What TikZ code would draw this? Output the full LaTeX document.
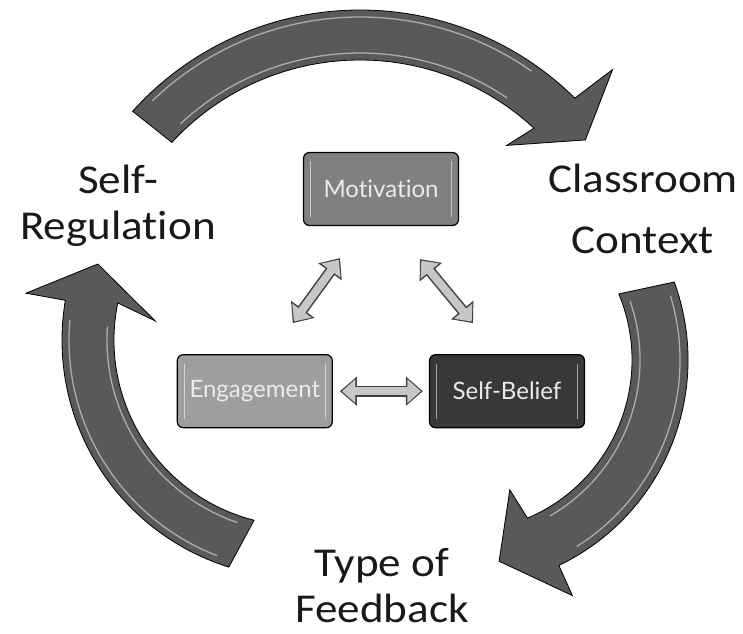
\documentclass[tikz,border=0pt]{standalone}
\usepackage{fontspec}
\newfontfamily\boxfont[Ligatures=NoCommon]{Lato}
\newfontfamily\labelfont[FakeStretch=1.1, Ligatures=NoCommon]{Carlito}
\usetikzlibrary{positioning}
\usetikzlibrary{arrows.meta}
\usetikzlibrary{calc}
\tikzset{%
	% Specifications for style of the boxes:
	base/.style = {rectangle, rounded corners=6pt, draw=black, line width=1.2pt,
		minimum width=155pt, minimum height=73pt, inner sep=2pt,
		text=white!92!black, font=\boxfont\fontsize{24}{26}\selectfont,
		path picture={
			\draw[white, opacity=.55, line width=1.6pt]
			([xshift=7pt,yshift=-9pt]path picture bounding box.north west) --
			([xshift=7pt,yshift=9pt]path picture bounding box.south west)
			([xshift=-7pt,yshift=-9pt]path picture bounding box.north east) --
			([xshift=-7pt,yshift=9pt]path picture bounding box.south east);}},
	motBox/.style = {base, fill=black!50},
	engBox/.style = {base, fill=black!38},
	belBox/.style = {base, fill=black!78},
	% two-way arrows between the boxes
	fatlink/.style = {line width=8pt, draw=black!22, shorten <=2pt, shorten >=2pt,
		{Triangle[length=13.5pt, width=23pt]}-{Triangle[length=13.5pt, width=23pt]},
		preaction={draw=black!75, line width=11pt, shorten <=0pt, shorten >=0pt,
			{Triangle[length=17pt, width=28pt]}-{Triangle[length=17pt, width=28pt]}}},
	% big curved arrows
	cycleArrow/.style = {draw=black, line width=0.8pt, fill=black!65},
	gloss/.style = {white, opacity=.5, line width=1.3pt},
	outerText/.style = {font=\labelfont\fontsize{41}{46}\selectfont, align=center,
		text=black!90}
}

\begin{document}
\begin{tikzpicture}[x=1pt, y=1pt]
	\path[use as bounding box, fill=white] (0,0) rectangle (743,633);
	
	% top arrow
	\begin{scope}[shift={(360,317)}]
		\draw[cycleArrow] (138:306pt) arc[start angle=138, end angle=45.4, radius=306pt]
			-- (44.3:353pt) -- (38:286pt) -- (49.3:225pt) -- (47.2:256pt)
			arc[start angle=47.2, end angle=137.3, radius=256pt] -- cycle;
		\draw[gloss] (134:299pt) arc[start angle=134, end angle=55, radius=299pt];
		\draw[gloss] (133:263pt) arc[start angle=133, end angle=56, radius=263pt];
	\end{scope}
	% right arrow
	\begin{scope}[shift={(460,273)}]
		\draw[cycleArrow] (20:228pt) arc[start angle=20, end angle=-64.3, radius=228pt]
			-- (-64.5:261pt) -- (-79:205pt) -- (-69:139pt) -- (-66.9:172pt)
			arc[start angle=-66.9, end angle=22.6, radius=172pt] -- cycle;
		\draw[gloss] (17:220pt) arc[start angle=17, end angle=-58, radius=220pt];
		\draw[gloss] (19:180pt) arc[start angle=19, end angle=-60, radius=180pt];
	\end{scope}
	% left arrow
	\begin{scope}[shift={(300,293)}]
		\draw[cycleArrow] (252.6:238pt) arc[start angle=252.6, end angle=170.4, radius=238pt]
			-- (170.3:278pt) -- (159.4:216pt) -- (172.5:146pt) -- (168.5:186pt)
			arc[start angle=168.5, end angle=255.7, radius=186pt] -- cycle;
		\draw[gloss] (249:231pt) arc[start angle=249, end angle=175, radius=231pt];
		\draw[gloss] (251:193pt) arc[start angle=251, end angle=176, radius=193pt];
	\end{scope}
	
	\node (mot) [motBox] at (381,444) {Motivation};
	\node (eng) [engBox, below left=128pt and -30pt of mot] {Engagement};
	\node (bel) [belBox, right=96pt of eng] {Self-Belief};
	
	\draw[fatlink] ([shift={(-41pt,-32pt)}]mot.south) -- ([shift={(38pt,31pt)}]eng.north);
	\draw[fatlink] ([shift={(39pt,-33pt)}]mot.south) -- ([shift={(-34pt,31pt)}]bel.north);
	\draw[fatlink] ([xshift=7pt]eng.east) -- ([xshift=-6pt]bel.west);
	
	% anchor=base sits on the last line
	\node (selfReg) [outerText, anchor=base] at (118,394) {Self-\\Regulation};
	\node (context) [outerText, anchor=base, font=\labelfont\fontsize{41}{61}\selectfont] at (643,380) {Classroom\\Context};
	\node (feedback) [outerText, anchor=base] at (382,11) {Type of\\Feedback};
\end{tikzpicture}
\end{document}
